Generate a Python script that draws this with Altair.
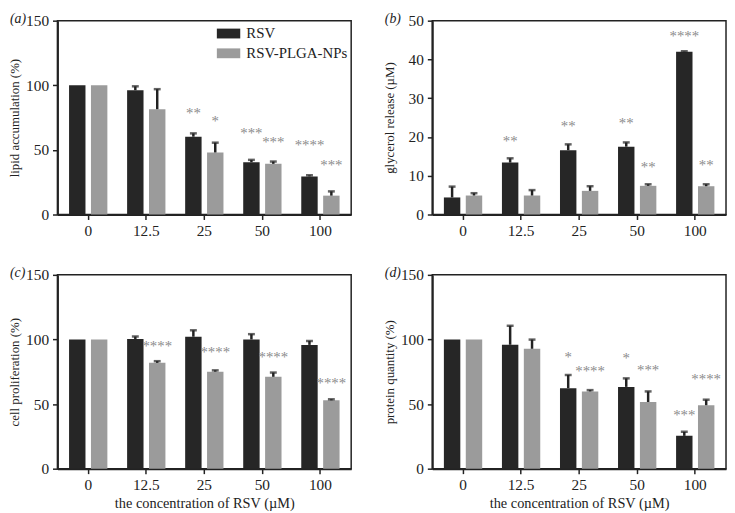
import altair as alt
import pandas as pd

CONC = ["0", "12.5", "25", "50", "100"]
SERIES = ["RSV", "RSV-PLGA-NPs"]
COLORS = ["#262626", "#9b9b9b"]

# panel (a) lipid accumulation (%)
a_rsv = [100, 96.2, 60.2, 40.5, 29.5]
a_rsv_err = [100, 99.2, 62.8, 42.3, 30.3]
a_np = [100, 81.5, 48.0, 39.2, 14.6]
a_np_err = [100, 97.0, 55.6, 41.0, 17.9]
a_rsv_star = ["", "", "**", "***", "****"]
a_rsv_star_y = [0, 0, 79, 63.8, 54.4]
a_np_star = ["", "", "*", "***", "***"]
a_np_star_y = [0, 0, 73, 57.2, 39]

# panel (b) glycerol release (µM)
b_rsv = [4.4, 13.4, 16.6, 17.5, 42.0]
b_rsv_err = [7.2, 14.5, 18.1, 18.6, 42.1]
b_np = [4.9, 4.9, 6.1, 7.4, 7.3]
b_np_err = [5.5, 6.3, 7.3, 7.8, 7.8]
b_rsv_star = ["", "**", "**", "**", "****"]
b_rsv_star_y = [0, 19.3, 23.2, 23.8, 46.2]
b_np_star = ["", "", "", "**", "**"]
b_np_star_y = [0, 0, 0, 12.4, 13.1]

# panel (c) cell proliferation (%)
c_rsv = [100, 100.3, 102.1, 100, 95.8]
c_rsv_err = [100, 102.3, 107.1, 104.1, 98.8]
c_np = [100, 81.9, 75.1, 71.1, 52.9]
c_np_err = [100, 83.2, 76.1, 74.4, 53.7]
c_rsv_star = ["", "", "", "", ""]
c_rsv_star_y = [0, 0, 0, 0, 0]
c_np_star = ["", "****", "****", "****", "****"]
c_np_star_y = [0, 95.8, 90.7, 87, 67.3]

# panel (d) protein quantity (%)
d_rsv = [100, 95.9, 62.3, 63.3, 25.4]
d_rsv_err = [100, 110.6, 72.5, 69.9, 28.5]
d_np = [100, 92.8, 59.8, 51.6, 49.1]
d_np_err = [100, 99.9, 60.8, 59.8, 53.4]
d_rsv_star = ["", "", "*", "*", "***"]
d_rsv_star_y = [0, 0, 87.2, 86.4, 42.5]
d_np_star = ["", "", "****", "***", "****"]
d_np_star_y = [0, 0, 76.3, 77, 70.4]

FONT = "Liberation Serif"
INK = "#222222"
W, H = 297, 196


def make_df(rsv, rsv_err, np_, np_err, rs, rsy, ns, nsy):
    rows = []
    for i, c in enumerate(CONC):
        rows.append(dict(conc=c, series=SERIES[0], value=rsv[i], err=rsv_err[i], star=rs[i], star_y=rsy[i]))
        rows.append(dict(conc=c, series=SERIES[1], value=np_[i], err=np_err[i], star=ns[i], star_y=nsy[i]))
    return pd.DataFrame(rows)


def panel(df, label, ytitle, ymax, ystep, show_xtitle, show_legend):
    base = alt.Chart(df)
    x = alt.X("conc:N", sort=CONC,
              scale=alt.Scale(paddingInner=0.34, paddingOuter=0.2),
              axis=alt.Axis(title="the concentration of RSV (µM)" if show_xtitle else None,
                            labelAngle=0, tickSize=5, labelPadding=4, titlePadding=4,
                            titleFontSize=14.5))
    xo = alt.XOffset("series:N", sort=SERIES, scale=alt.Scale(paddingInner=0.25))
    yscale = alt.Scale(domain=[0, ymax], nice=False)
    yaxis = alt.Axis(title=ytitle, values=list(range(0, ymax + 1, ystep)), tickSize=5,
                     labelPadding=4, titlePadding=4, minExtent=32, labelOverlap=False)
    if show_legend:
        legend = alt.Legend(title=None, orient="none", legendX=161, legendY=1,
                            symbolType="M-1,-0.42 L1,-0.42 L1,0.42 L-1,0.42 Z",
                            symbolSize=560, symbolStrokeWidth=0, labelFont=FONT,
                            labelFontSize=15, labelColor=INK, rowPadding=-5,
                            symbolOffset=0, labelOffset=6)
    else:
        legend = None
    bars = base.mark_bar().encode(
        x=x, xOffset=xo,
        y=alt.Y("value:Q", scale=yscale, axis=yaxis),
        color=alt.Color("series:N", sort=SERIES,
                        scale=alt.Scale(domain=SERIES, range=COLORS), legend=legend),
    )
    edf = base.transform_filter("datum.err > datum.value")
    rule = edf.mark_rule(color=INK, strokeWidth=2.5).encode(
        x=x, xOffset=xo, y=alt.Y("value:Q", scale=yscale, axis=yaxis), y2="err:Q")
    cap = edf.mark_tick(color=INK, thickness=2.5, size=7, orient="horizontal").encode(
        x=x, xOffset=xo, y=alt.Y("err:Q", scale=yscale, axis=yaxis))
    stars = base.transform_filter("datum.star != ''").mark_text(
        font=FONT, fontSize=15, color="#8c8c8c", baseline="middle", dy=1).encode(
        x=x, xOffset=xo, y=alt.Y("star_y:Q", scale=yscale, axis=yaxis), text="star:N")
    lab = alt.Chart(pd.DataFrame({"t": [label]})).mark_text(
        font=FONT, fontSize=14, fontStyle="italic", color=INK, align="left",
        baseline="middle").encode(text="t:N", x=alt.value(-48), y=alt.value(-2))
    return alt.layer(bars, rule, cap, stars, lab).properties(width=W, height=H)


pa = panel(make_df(a_rsv, a_rsv_err, a_np, a_np_err, a_rsv_star, a_rsv_star_y, a_np_star, a_np_star_y),
           "(a)", "lipid accumulation (%)", 150, 50, False, True)
pb = panel(make_df(b_rsv, b_rsv_err, b_np, b_np_err, b_rsv_star, b_rsv_star_y, b_np_star, b_np_star_y),
           "(b)", "glycerol release (µM)", 50, 10, False, False)
pc = panel(make_df(c_rsv, c_rsv_err, c_np, c_np_err, c_rsv_star, c_rsv_star_y, c_np_star, c_np_star_y),
           "(c)", "cell proliferation (%)", 150, 50, True, False)
pd_ = panel(make_df(d_rsv, d_rsv_err, d_np, d_np_err, d_rsv_star, d_rsv_star_y, d_np_star, d_np_star_y),
            "(d)", "protein quantity (%)", 150, 50, True, False)

chart = alt.vconcat(
    alt.hconcat(pa, pb, spacing=31),
    alt.hconcat(pc, pd_, spacing=31),
    spacing=25,
).properties(padding={"left": 0, "top": 0, "right": 0, "bottom": 0}).configure_view(
    stroke=INK, strokeWidth=1.5
).configure_axis(
    labelFont=FONT, titleFont=FONT, labelFontSize=15.5, titleFontSize=13,
    labelColor=INK, titleColor=INK, titleFontWeight="normal",
    domainColor=INK, tickColor=INK, domainWidth=2, tickWidth=1.5, grid=False,
)

chart.save("out.html", embed_options={"renderer": "svg", "actions": False})
